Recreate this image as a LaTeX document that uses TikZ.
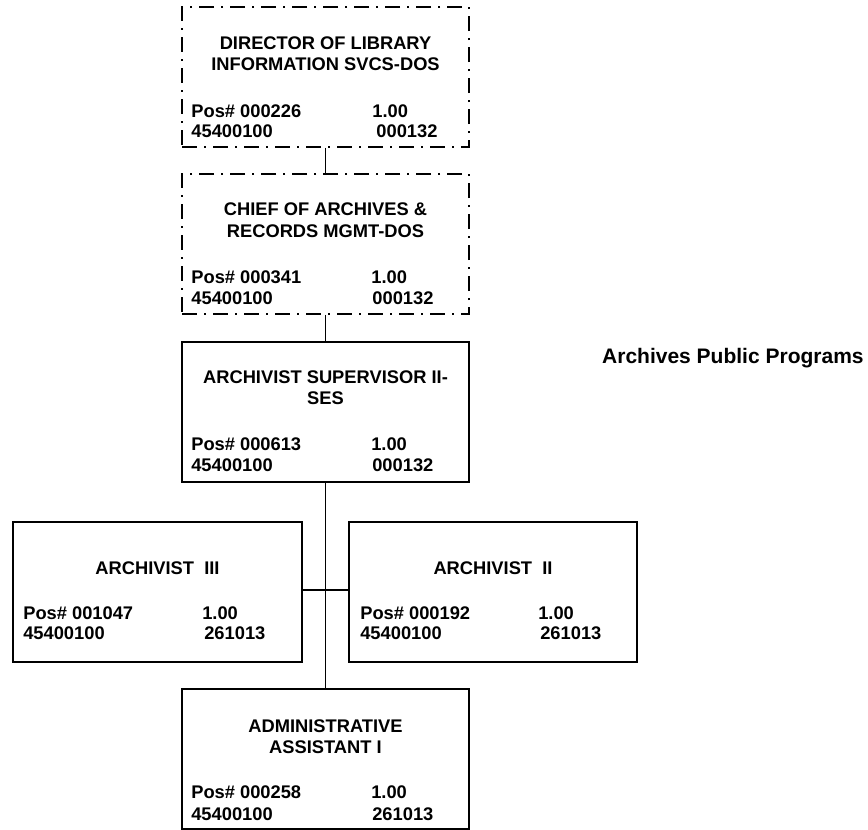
\documentclass[tikz,border=0pt]{standalone}
\usepackage{fontspec}
\setmainfont{Liberation Sans}
\usetikzlibrary{calc}
\newcommand\boxfont{\bfseries\fontsize{18.3pt}{21pt}\selectfont}
\newcommand\unitfont{\bfseries\fontsize{21pt}{24pt}\selectfont}
\begin{document}
\begin{tikzpicture}[x=1pt,y=-1pt,
  lbl/.style={inner sep=0pt, font=\boxfont},
  ttl/.style={lbl, anchor=base},
  col/.style={lbl, anchor=base west},
  solidbox/.style={draw, line width=1.8pt, minimum width=287pt, minimum height=140pt, inner sep=0pt},
  dashbox/.style={solidbox, line width=1.6pt, dash pattern=on 15pt off 7pt on 2pt off 7pt},
  link/.style={line width=1.8pt}]
\useasboundingbox (0,0) rectangle (868,830);

% position boxes
\node[dashbox]  (b1) at (325.5,77)  {};
\node[dashbox]  (b2) at (325.5,244) {};
\node[solidbox] (b3) at (325.5,412) {};
\node[solidbox, minimum width=289pt] (a3) at (157.5,592) {};
\node[solidbox, minimum width=288pt] (a2) at (493,592) {};
\node[solidbox] (ad) at (325.5,759) {};

% reporting lines
\draw[link] (b1.south) -- (b2.north);
\draw[link] (b2.south) -- (b3.north);
\draw[link] (b3.south) -- (ad.north);
\draw[link] ([yshift=2pt]a3.east) -- ([yshift=2pt]a2.west);

% unit title
\node[anchor=base west, inner sep=0pt, font=\unitfont] (unit) at (602,363) {Archives Public Programs};

% director
\node[ttl] (b1t1) at ($(b1.north)+(0,43)$) {DIRECTOR OF LIBRARY};
\node[ttl] (b1t2) at ($(b1.north)+(0,64)$) {INFORMATION SVCS-DOS};
\node[col] (b1p) at ($(b1.north west)+(10,111)$) {Pos\# 000226};
\node[col] (b1f) at ($(b1.north west)+(191,111)$) {1.00};
\node[col] (b1a) at ($(b1.north west)+(10,131)$) {45400100};
\node[col] (b1c) at ($(b1.north west)+(195,131)$) {000132};

% chief of archives
\node[ttl] (b2t1) at ($(b2.north)+(0,42)$) {CHIEF OF ARCHIVES \&};
\node[ttl] (b2t2) at ($(b2.north)+(0,64)$) {RECORDS MGMT-DOS};
\node[col] (b2p) at ($(b2.north west)+(10,110)$) {Pos\# 000341};
\node[col] (b2f) at ($(b2.north west)+(190,110)$) {1.00};
\node[col] (b2a) at ($(b2.north west)+(10,131)$) {45400100};
\node[col] (b2c) at ($(b2.north west)+(191,131)$) {000132};

% supervisor
\node[ttl] (b3t1) at ($(b3.north)+(0,42)$) {ARCHIVIST SUPERVISOR II-};
\node[ttl] (b3t2) at ($(b3.north)+(0,63)$) {SES};
\node[col] (b3p) at ($(b3.north west)+(10,109)$) {Pos\# 000613};
\node[col] (b3f) at ($(b3.north west)+(190,109)$) {1.00};
\node[col] (b3a) at ($(b3.north west)+(10,130)$) {45400100};
\node[col] (b3c) at ($(b3.north west)+(191,130)$) {000132};

% archivist III
\node[ttl] (a3t) at ($(a3.north)+(0,53)$) {ARCHIVIST\ \ III};
\node[col] (a3p) at ($(a3.north west)+(11,98)$) {Pos\# 001047};
\node[col] (a3f) at ($(a3.north west)+(190,98)$) {1.00};
\node[col] (a3a) at ($(a3.north west)+(11,118)$) {45400100};
\node[col] (a3c) at ($(a3.north west)+(192,118)$) {261013};

% archivist II
\node[ttl] (a2t) at ($(a2.north)+(0,53)$) {ARCHIVIST\ \ II};
\node[col] (a2p) at ($(a2.north west)+(12,98)$) {Pos\# 000192};
\node[col] (a2f) at ($(a2.north west)+(190,98)$) {1.00};
\node[col] (a2a) at ($(a2.north west)+(12,118)$) {45400100};
\node[col] (a2c) at ($(a2.north west)+(192,118)$) {261013};

% administrative assistant
\node[ttl] (adt1) at ($(ad.north)+(0,44)$) {ADMINISTRATIVE};
\node[ttl] (adt2) at ($(ad.north)+(0,65)$) {ASSISTANT I};
\node[col] (adp) at ($(ad.north west)+(10,110)$) {Pos\# 000258};
\node[col] (adf) at ($(ad.north west)+(190,110)$) {1.00};
\node[col] (ada) at ($(ad.north west)+(10,132)$) {45400100};
\node[col] (adc) at ($(ad.north west)+(191,132)$) {261013};
\end{tikzpicture}
\end{document}
